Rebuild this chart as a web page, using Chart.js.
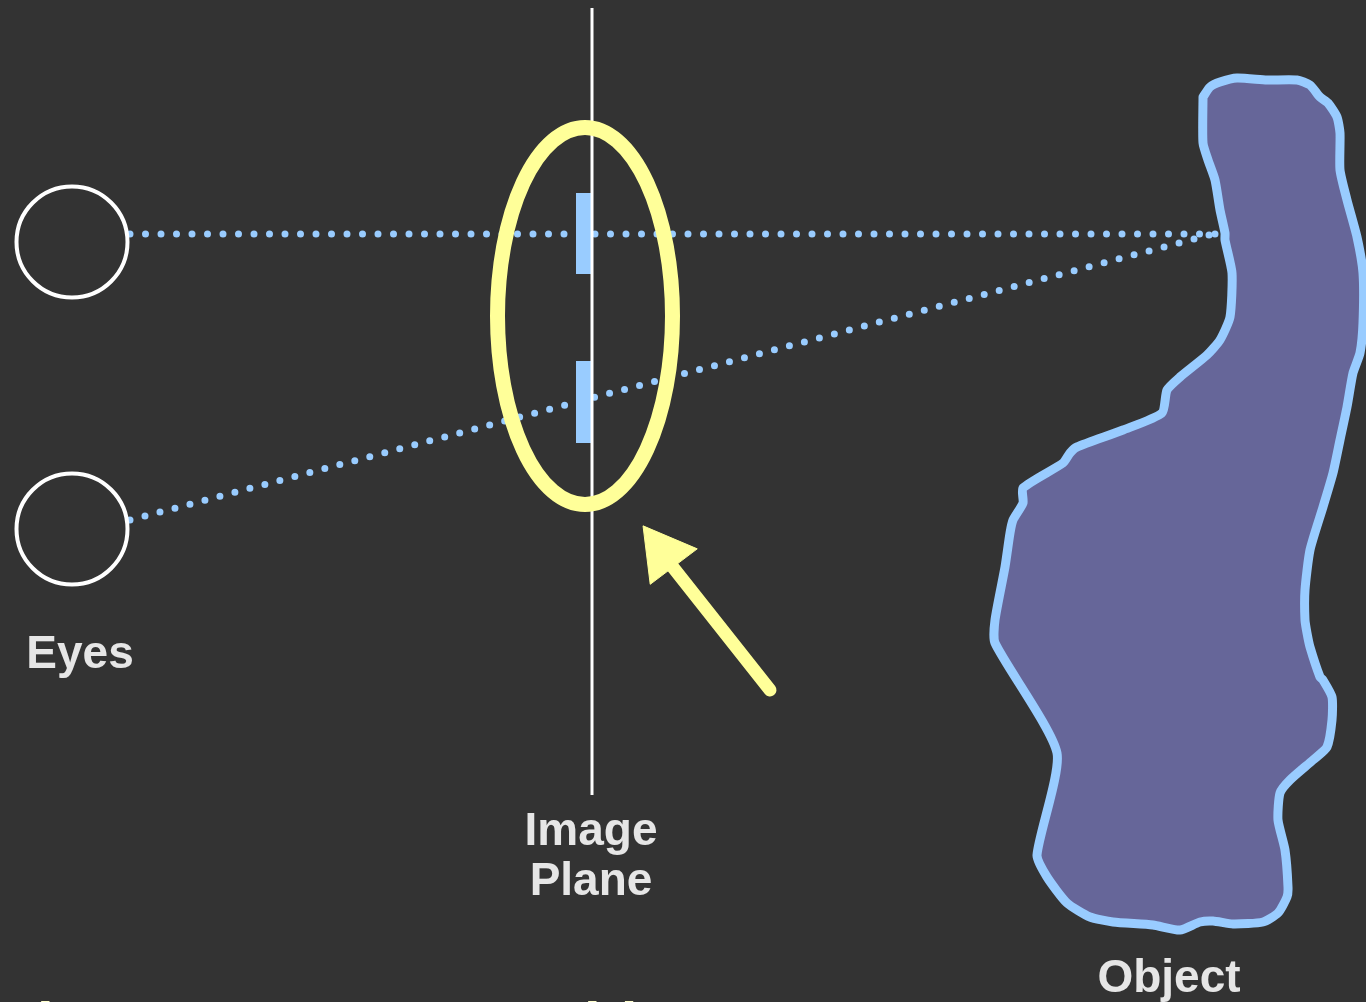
<!DOCTYPE html>
<html>
<head>
<meta charset="utf-8">
<script src="https://cdn.jsdelivr.net/npm/chart.js@4/dist/chart.umd.min.js"></script>
<style>
  html, body { margin: 0; padding: 0; background: #333333; overflow: hidden; }
  #wrap { width: 1366px; height: 1002px; }
</style>
</head>
<body>
<div id="wrap"><canvas id="c" width="1366" height="1002"></canvas></div>
<script>
// ---- diagram data (in data space, x: 0..1366, y: 0..1002 downward) ----
const eyeX = [72, 72];
const eyeY = [242, 529];

const planeX = [592, 592];
const planeY = [8, 795];

const sightStartX = [130, 130];
const sightStartY = [234, 520];
const sightEndX = [1218, 1213];
const sightEndY = [234, 234];

const patchX = [584.5, 584.5];
const patchTopY = [193, 361];
const patchBottomY = [274, 443];

const ellipseCenter = [585, 316];
const ellipseRadii = [87.5, 188.5];

const arrowTail = [770, 690];
const arrowNeck = [668, 561];
const arrowHead = [663.5, 553];

const objectX = [1203,1210,1220,1237,1267,1297,1310,1320,1328,1337,1340,1340,1347,1357,1363,1363,1360,1353,1347,1340,1333,1323,1310,1305,1305,1307,1310,1320,1323,1332,1332,1327,1313,1290,1280,1278,1285,1288,1287,1278,1263,1233,1213,1200,1180,1153,1113,1090,1067,1047,1037,1057,995,995,1005,1010,1013,1023,1023,1063,1070,1077,1123,1162,1167,1180,1207,1220,1230,1232,1225,1225,1220,1215,1208,1203,1203];
const objectY = [97,87,82,78,80,80,85,97,103,117,133,170,200,237,273,323,353,373,407,440,473,507,550,590,620,633,647,677,680,697,720,747,760,780,793,820,850,887,897,913,922,924,921,922,930,925,922,917,903,877,855,753,643,620,567,533,520,503,488,463,453,447,430,413,390,377,355,340,317,273,240,233,210,180,160,143,97];

const labelTexts = ['Eyes', 'Image', 'Plane', 'Object'];
const labelX = [80, 591, 591, 1169];
const labelY = [668, 845, 895, 992];

const captionWords = ['the', 'this'];
const captionX = [17, 564];
const captionY = [1044, 1044];

// ---- styles ----
const BLUE = '#99ccff';
const YELLOW = '#ffff99';
const WHITE = '#ffffff';
const LABEL = '#e6e6e6';

function pts(xs, ys) { return xs.map((x, i) => ({ x: x, y: ys[i] })); }

const datasets = [];
// object (bottom)
datasets.push({
  data: pts(objectX, objectY), showLine: true, fill: 'shape',
  backgroundColor: '#666699', borderColor: BLUE, borderWidth: 9,
  borderJoinStyle: 'round', borderCapStyle: 'round', tension: 0.2,
  pointRadius: 0, order: 10
});
// lines of sight (dotted)
for (let i = 0; i < sightStartX.length; i++) {
  datasets.push({
    data: [{ x: sightStartX[i], y: sightStartY[i] }, { x: sightEndX[i], y: sightEndY[i] }],
    showLine: true, borderColor: BLUE, borderWidth: 7, borderDash: [0, 15.5],
    borderCapStyle: 'round', pointRadius: 0, fill: false, order: 9
  });
}
// projected patches
for (let i = 0; i < patchX.length; i++) {
  datasets.push({
    data: [{ x: patchX[i], y: patchTopY[i] }, { x: patchX[i], y: patchBottomY[i] }],
    showLine: true, borderColor: BLUE, borderWidth: 17, borderCapStyle: 'butt',
    pointRadius: 0, fill: false, order: 8
  });
}
// image plane
datasets.push({
  data: pts(planeX, planeY), showLine: true, borderColor: WHITE, borderWidth: 3,
  pointRadius: 0, fill: false, order: 7
});
// eyes
datasets.push({
  data: pts(eyeX, eyeY), showLine: false, pointRadius: 55.5, pointBorderWidth: 4,
  pointBorderColor: WHITE, pointBackgroundColor: 'rgba(0,0,0,0)', order: 6
});
// arrow shaft
datasets.push({
  data: [{ x: arrowTail[0], y: arrowTail[1] }, { x: arrowNeck[0], y: arrowNeck[1] }],
  showLine: true, borderColor: YELLOW, borderWidth: 13, borderCapStyle: 'round',
  pointRadius: 0, fill: false, order: 5
});
// arrow head
datasets.push({
  data: [{ x: arrowHead[0], y: arrowHead[1] }], showLine: false,
  pointStyle: 'triangle', pointRadius: 34, rotation: -37,
  pointBackgroundColor: YELLOW, pointBorderColor: YELLOW, pointBorderWidth: 1, order: 4
});

const overlay = {
  id: 'overlay',
  afterDatasetsDraw(chart) {
    const ctx = chart.ctx, xs = chart.scales.x, ys = chart.scales.y;
    // highlight ellipse
    const cx = xs.getPixelForValue(ellipseCenter[0]);
    const cy = ys.getPixelForValue(ellipseCenter[1]);
    const rx = Math.abs(xs.getPixelForValue(ellipseCenter[0] + ellipseRadii[0]) - cx);
    const ry = Math.abs(ys.getPixelForValue(ellipseCenter[1] + ellipseRadii[1]) - cy);
    ctx.save();
    ctx.beginPath();
    ctx.ellipse(cx, cy, rx, ry, 0, 0, Math.PI * 2);
    ctx.lineWidth = 15;
    ctx.strokeStyle = YELLOW;
    ctx.stroke();
    // labels
    ctx.fillStyle = LABEL;
    ctx.font = 'bold 46px "Liberation Sans", Arial, sans-serif';
    ctx.textAlign = 'center';
    ctx.textBaseline = 'alphabetic';
    labelTexts.forEach((t, i) => {
      ctx.fillText(t, xs.getPixelForValue(labelX[i]), ys.getPixelForValue(labelY[i]));
    });
    // clipped caption at the bottom edge
    ctx.fillStyle = '#ffffcc';
    ctx.font = 'bold 60px "Liberation Sans", Arial, sans-serif';
    ctx.textAlign = 'left';
    captionWords.forEach((t, i) => {
      ctx.fillText(t, xs.getPixelForValue(captionX[i]), ys.getPixelForValue(captionY[i]));
    });
    ctx.restore();
  }
};

const bg = {
  id: 'bg',
  beforeDraw(chart) {
    const ctx = chart.ctx;
    ctx.save();
    ctx.fillStyle = '#333333';
    ctx.fillRect(0, 0, chart.width, chart.height);
    ctx.restore();
  }
};

new Chart(document.getElementById('c'), {
  type: 'scatter',
  data: { datasets: datasets },
  options: {
    responsive: false,
    animation: false,
    events: [],
    devicePixelRatio: 1,
    layout: { padding: 0, autoPadding: false },
    plugins: { legend: { display: false }, tooltip: { enabled: false } },
    scales: {
      x: { type: 'linear', min: 0, max: 1366, display: false },
      y: { type: 'linear', min: 0, max: 1002, reverse: true, display: false }
    }
  },
  plugins: [bg, overlay]
});
</script>
</body>
</html>
